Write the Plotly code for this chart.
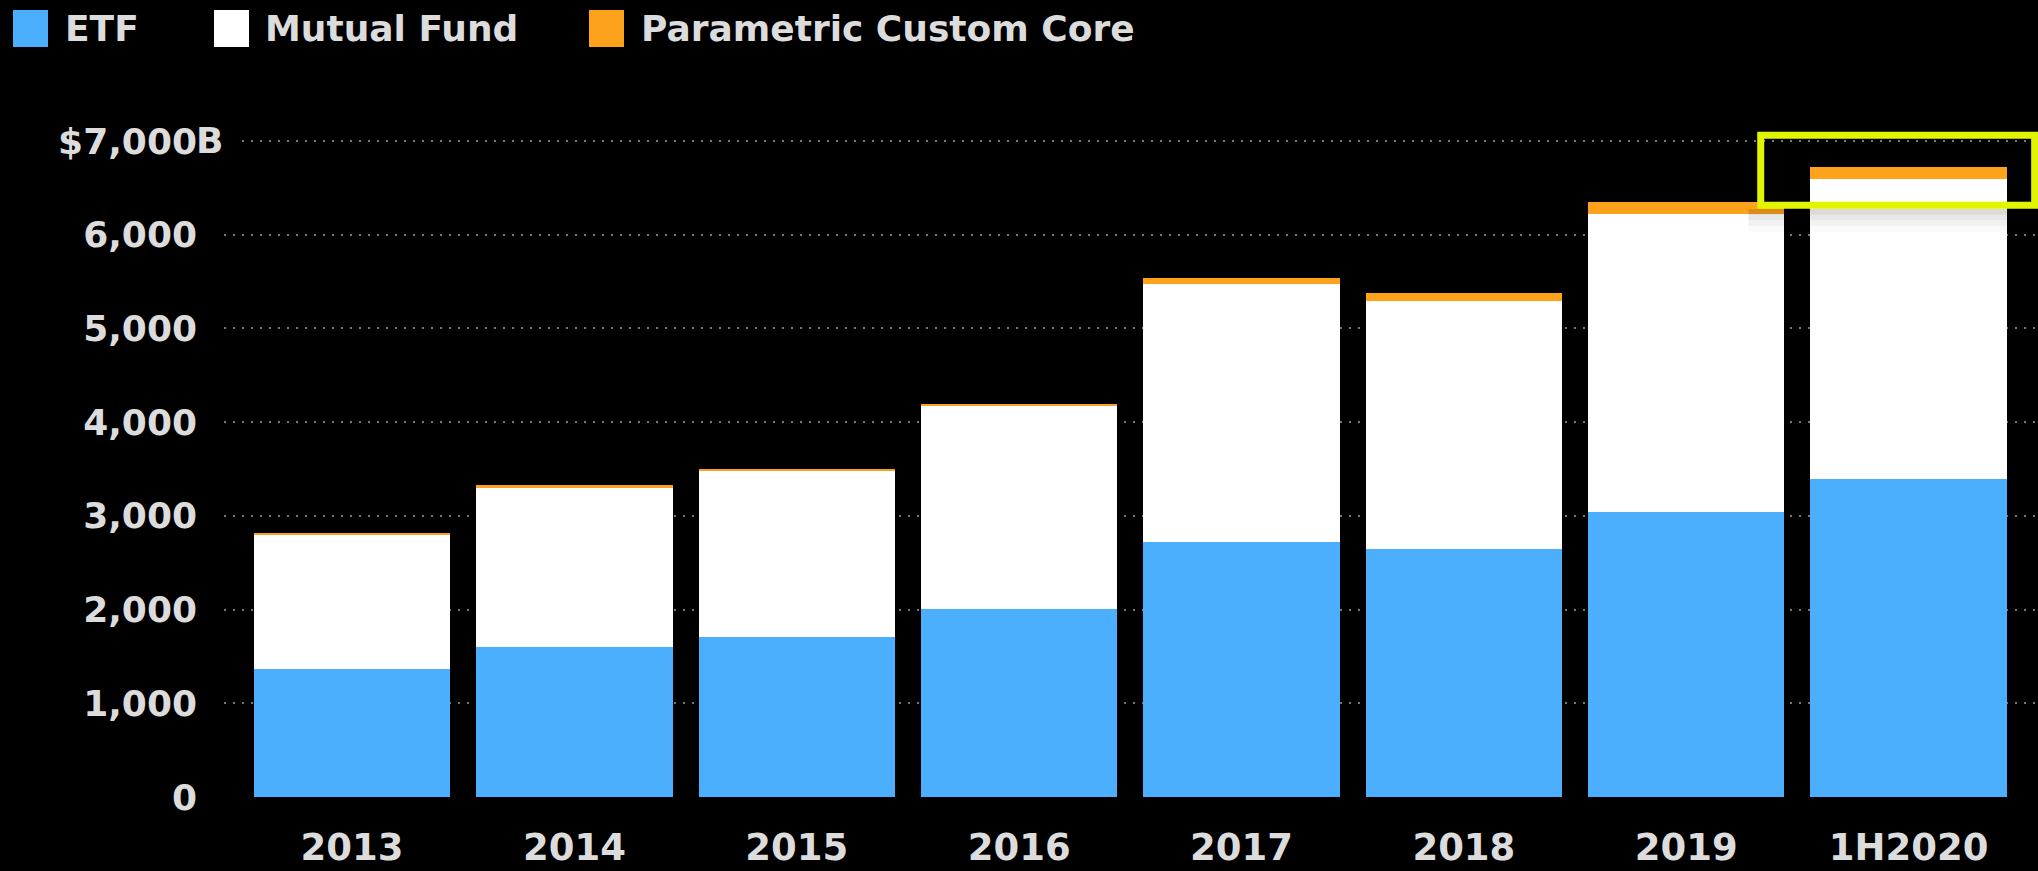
"""
被动投资规模图：ETF / 共同基金 / Parametric Custom Core 堆叠柱状图
"""
import plotly.graph_objects as go

# 数据（单位：十亿美元）
years = ['2013', '2014', '2015', '2016', '2017', '2018', '2019', '1H2020']
etf = [1370, 1600, 1710, 2010, 2720, 2650, 3040, 3390]
mutual_fund = [1430, 1700, 1770, 2160, 2755, 2645, 3180, 3205]
parametric = [20, 30, 20, 25, 65, 85, 130, 130]

series_names = ['ETF', 'Mutual Fund', 'Parametric Custom Core']
series_colors = ['#4baffd', '#ffffff', '#fda31b']

y_tickvals = [0, 1000, 2000, 3000, 4000, 5000, 6000, 7000]
y_ticktext = ['0', '1,000', '2,000', '3,000', '4,000', '5,000', '6,000', '$7,000']
y_top_suffix = 'B'

# 画布尺寸
W, H = 2038, 871
L, R, T, B = 224, 0, 120, 74

TEXT_COLOR = '#dcdcdc'
FONT = 'DejaVu Sans'


def px_x(px):
    """像素 -> paper x"""
    return (px - L) / (W - L - R)


def px_y(py):
    """像素（从上往下） -> paper y"""
    return (H - B - py) / (H - T - B)


fig = go.Figure()

for name, values, color in zip(series_names, [etf, mutual_fund, parametric], series_colors):
    fig.add_trace(go.Bar(
        x=years,
        y=values,
        name=name,
        marker=dict(color=color, line=dict(width=0)),
        showlegend=False
    ))

# 自定义图例（方块 + 文字）
legend_swatch_x = [13, 214, 589]
legend_text_x = [63, 263, 639]
shapes = []
annotations = []
for name, color, sx, tx in zip(series_names, series_colors, legend_swatch_x, legend_text_x):
    shapes.append(dict(
        type='rect', xref='paper', yref='paper',
        x0=px_x(sx), x1=px_x(sx + 35), y0=px_y(47), y1=px_y(10),
        fillcolor=color, line=dict(width=0), layer='above'
    ))
    annotations.append(dict(
        x=px_x(tx), y=px_y(29), xref='paper', yref='paper',
        text=name, showarrow=False, xanchor='left', yanchor='middle',
        font=dict(family=FONT, size=36, color=TEXT_COLOR, weight='bold')
    ))

# 顶部刻度的 "B" 后缀，悬在对齐线外
annotations.append(dict(
    x=px_x(194), y=y_tickvals[-1], xref='paper', yref='y',
    text=y_top_suffix, showarrow=False, xanchor='left', yanchor='middle',
    font=dict(family=FONT, size=36, color=TEXT_COLOR, weight='bold')
))
# 遮住 "B" 后面那一段网格线
shapes.append(dict(
    type='rect', xref='paper', yref='y',
    x0=px_x(224), x1=px_x(242), y0=y_tickvals[-1] - 40, y1=y_tickvals[-1] + 40,
    fillcolor='#000000', line=dict(width=0), layer='above'
))

# 黄框下方的阴影
shadow_alpha = [0.14, 0.09, 0.05, 0.02]
for i, a in enumerate(shadow_alpha):
    shapes.append(dict(
        type='rect', xref='x', yref='y',
        x0=6.28, x1=7.58, y0=6274 - (i + 1) * 60, y1=6274 - i * 60,
        fillcolor=f'rgba(0,0,0,{a})', line=dict(width=0), layer='above'
    ))

# 高亮 1H2020 顶部的黄框
shapes.append(dict(
    type='rect', xref='x', yref='y',
    x0=6.335, x1=7.567, y0=6313, y1=7060,
    line=dict(color='#e2f500', width=7),
    fillcolor='rgba(0,0,0,0)', layer='above'
))

fig.update_layout(
    barmode='stack',
    bargap=0.117,
    width=W,
    height=H,
    margin=dict(l=L, r=R, t=T, b=B),
    paper_bgcolor='#000000',
    plot_bgcolor='#000000',
    shapes=shapes,
    annotations=annotations,
    xaxis=dict(
        range=[-0.576, 7.582],
        showgrid=False,
        zeroline=False,
        showline=False,
        ticks='',
        automargin=False,
        ticklabelstandoff=25,
        tickfont=dict(family=FONT, size=37, color=TEXT_COLOR, weight='bold')
    ),
    yaxis=dict(
        range=[0, 7224],
        tickvals=y_tickvals,
        ticktext=y_ticktext,
        showgrid=True,
        gridcolor='#777777',
        gridwidth=1.5,
        griddash='2px,7px',
        zeroline=False,
        showline=False,
        ticks='',
        automargin=False,
        ticklabelstandoff=26,
        tickfont=dict(family=FONT, size=36, color=TEXT_COLOR, weight='bold')
    )
)

fig.write_html(
    "out.html",
    config={'displayModeBar': False},
    post_script="document.body.style.margin='0';"
                "document.body.style.background='#000';"
                "document.body.style.overflow='hidden';"
)
